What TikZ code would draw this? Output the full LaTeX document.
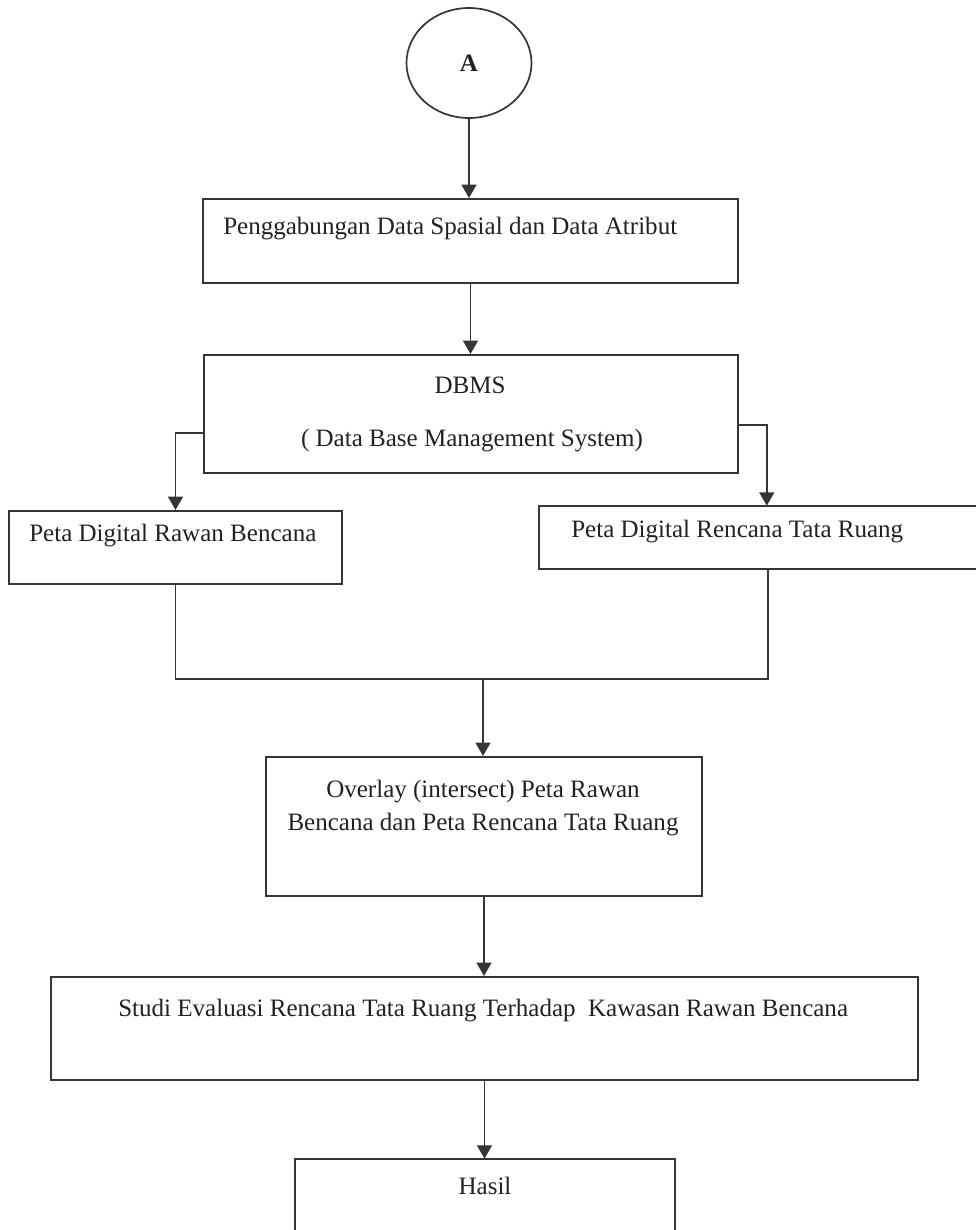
\documentclass[tikz,border=0pt]{standalone}
\usepackage{fontspec}
\setmainfont{Liberation Serif}
\usetikzlibrary{shapes.geometric,arrows.meta}
\definecolor{linec}{HTML}{353535}
\definecolor{textc}{HTML}{222222}
\begin{document}
\begin{tikzpicture}[x=0.025cm,y=-0.025cm,
  font=\fontsize{17.8}{23.5}\selectfont, text=textc,
  box/.style={draw=linec, line width=1.4pt, rectangle, inner sep=0pt},
  openbox/.style={draw=none, rectangle, inner sep=0pt},
  sz/.style 2 args={minimum width=#1*0.025cm, minimum height=#2*0.025cm},
  lbl/.style={inner sep=0pt},
  arr/.style={draw=linec, line width=1.4pt, -{Triangle[width=10.5pt,length=9.5pt]}},
  ln/.style={draw=linec, line width=1.4pt}]
\useasboundingbox[fill=white] (0,0) rectangle (975,1230);
\node[ellipse, draw=linec, line width=1.2pt, sz={125}{110}, inner sep=0pt] (A) at (469,63) {\textbf{A}};
\node[box, sz={535}{84}] (b1) at (470.5,241) {};
\node[lbl, anchor=west] (t1) at (223,229) {Penggabungan Data Spasial dan Data Atribut};
\node[box, sz={534}{118}] (b2) at (471,414) {};
\node[lbl] (t2a) at (470,385) {DBMS};
\node[lbl] (t2b) at (472,441) {( Data Base Management System)};
\node[box, sz={333}{73}] (b3) at (175.5,547.5) {};
\node[lbl, anchor=west] (t3) at (29,536) {Peta Digital Rawan Bencana};
\node[openbox, sz={437}{63}] (b4) at (757.5,537.5) {};
\draw[ln] (b4.north east) -- (b4.north west) -- (b4.south west) -- (b4.south east);
\node[lbl, anchor=west] (t4) at (571,532) {Peta Digital Rencana Tata Ruang};
\node[box, sz={436}{139}] (b5) at (484,826.5) {};
\node[lbl, align=center] (t5) at (483,808) {Overlay (intersect) Peta Rawan\\Bencana dan Peta Rencana Tata Ruang};
\node[box, sz={867}{103}] (b6) at (484.5,1028.5) {};
\node[lbl, anchor=west] (t6) at (118,1011) {Studi Evaluasi Rencana Tata Ruang Terhadap\ \ Kawasan Rawan Bencana};
\node[openbox, sz={380}{80}] (b7) at (485,1199) {};
\draw[ln] (b7.south west) -- (b7.north west) -- (b7.north east) -- (b7.south east);
\node[lbl] (t7) at (485,1186) {Hasil};
\coordinate (m) at (483,679);
\draw[arr] (A.south) -- (A.south |- b1.north);
\draw[arr] (b1.south) -- (b1.south |- b2.north);
\draw[arr] ([yshift=-0.475cm]b2.west) -| (b3.north);
\draw[arr] ([yshift=-0.275cm]b2.east) -| ([xshift=5.7cm]b4.north west);
\draw[ln] (b3.south) |- (m) -| ([xshift=5.725cm]b4.south west);
\draw[arr] (m) -- (m |- b5.north);
\draw[arr] (b5.south) -- (b5.south |- b6.north);
\draw[arr] (b6.south) -- (b6.south |- b7.north);
\end{tikzpicture}
\end{document}
